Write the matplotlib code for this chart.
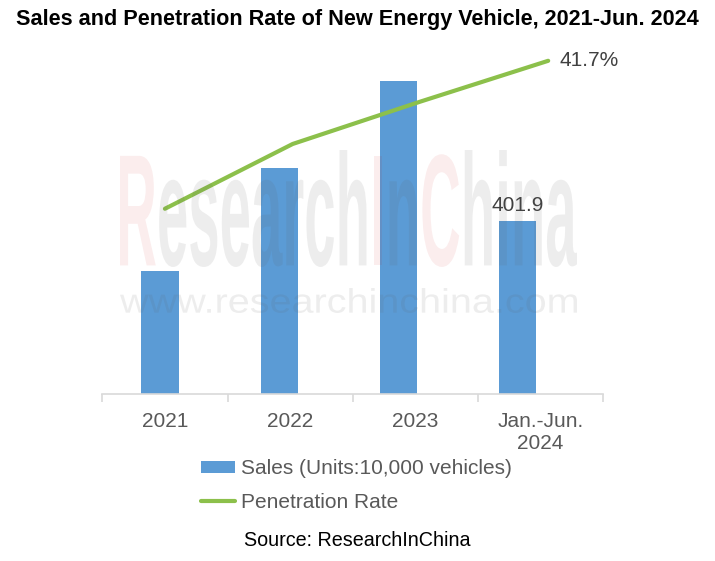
import numpy as np
import matplotlib
matplotlib.use('Agg')
import matplotlib.pyplot as plt
from matplotlib.textpath import TextPath, text_to_path
from matplotlib.patches import PathPatch
from matplotlib.font_manager import FontProperties
from matplotlib.transforms import Affine2D, IdentityTransform

plt.rcParams['font.family'] = ['Liberation Sans', 'DejaVu Sans']

TITLE = 'Sales and Penetration Rate of New Energy Vehicle, 2021-Jun. 2024'
periods = ['2021', '2022', '2023', 'Jan.-Jun.\n2024']
sales = [286, 523, 724, 401.9]          # 10,000 vehicles
penetration = [23.2, 31.3, 36.6, 41.7]  # %
SALES_LABEL = 'Sales (Units:10,000 vehicles)'
RATE_LABEL = 'Penetration Rate'
SOURCE = 'Source: ResearchInChina'

BAR_COLOR = '#5B9BD5'
LINE_COLOR = '#8CC04B'
TEXT_GRAY = '#595959'
AXIS_GRAY = '#D9D9D9'

W, H = 715, 561
fig = plt.figure(figsize=(W / 100, H / 100), dpi=100)
ax = fig.add_axes([102.3 / W, 1 - 394.3 / H, 501 / W, 354.3 / H])
ax2 = ax.twinx()

x = np.arange(len(periods))
bar_x = x * 0.951 - 0.0375
bars = ax.bar(bar_x, sales, width=0.30, color=BAR_COLOR, zorder=2,
              label=SALES_LABEL)
line, = ax2.plot(x * 1.02, penetration, color=LINE_COLOR, lw=3,
                 solid_capstyle='round', label=RATE_LABEL)

ax.set_xlim(-0.5, len(periods) - 0.5)
ax.set_ylim(0, 820)
ax2.set_ylim(0, 44.3)

# only last point is labelled
ax.text(bar_x[-1], sales[-1] + 13, f'{sales[-1]:.1f}', ha='center',
        va='bottom', fontsize=15, color='#404040')
ax2.text(x[-1] * 1.02 + 0.09, penetration[-1], f'{penetration[-1]:.1f}%',
         ha='left', va='center', fontsize=15, color='#404040')

for a in (ax, ax2):
    for s in ('top', 'right', 'left'):
        a.spines[s].set_visible(False)
    a.set_yticks([])
ax2.spines['bottom'].set_visible(False)
ax.spines['bottom'].set_color(AXIS_GRAY)
ax.spines['bottom'].set_linewidth(1.2)

ax.set_xticks(x)
ax.set_xticklabels(periods, fontsize=15, color=TEXT_GRAY, linespacing=1.2)
ax.tick_params(axis='x', which='major', length=0, pad=13)
ax.set_xticks(np.arange(len(periods) + 1) - 0.5, minor=True)
ax.tick_params(axis='x', which='minor', length=6, color=AXIS_GRAY, width=1.2)

fig.text(0.5, 1 - 20 / H, TITLE, ha='center', va='center', fontsize=15.6,
         fontweight='bold')
fig.text(357 / W, 1 - 540 / H, SOURCE, ha='center', va='center',
         fontsize=14.2, color='black')

fig.legend(handles=[bars, line], loc='upper left',
           bbox_to_anchor=(201 / W, 1 - 459 / H), frameon=False,
           fontsize=15, labelcolor=TEXT_GRAY, handlelength=1.65,
           handleheight=0.5, handletextpad=0.25, labelspacing=0.7,
           borderpad=0, borderaxespad=0)


# faint watermark, drawn on top like the original
def watermark(parts, box, weight):
    x0, y0, x1, y1 = box
    prop = FontProperties(family='Liberation Sans', weight=weight)
    full = ''.join(p for p, _ in parts)
    ext = TextPath((0, 0), full, size=100, prop=prop).get_extents()
    sx = (x1 - x0) / ext.width
    sy = (y1 - y0) / ext.height
    tr = Affine2D().translate(-ext.x0, -ext.y0).scale(sx, sy) \
        .translate(x0, H - y1) + IdentityTransform()
    prefix = ''
    for txt, (col, alpha) in parts:
        offset = 0
        if prefix:
            offset = text_to_path.get_text_width_height_descent(
                prefix, prop, ismath=False)[0] * 100 / prop.get_size_in_points()
        path = TextPath((offset, 0), txt, size=100, prop=prop)
        fig.add_artist(PathPatch(path, transform=tr, facecolor=col,
                                 edgecolor='none', alpha=alpha, zorder=10))
        prefix += txt


pink = ('#D00000', 0.07)
gray = ('#606060', 0.11)
watermark([('R', pink), ('esearch', gray), ('I', pink), ('n', gray),
           ('C', pink), ('hina', gray)], (120, 150, 577, 267), 'bold')
watermark([('www.researchinchina.com', gray)], (120, 288, 577, 313), 'normal')

fig.savefig('out.png', dpi=100)
